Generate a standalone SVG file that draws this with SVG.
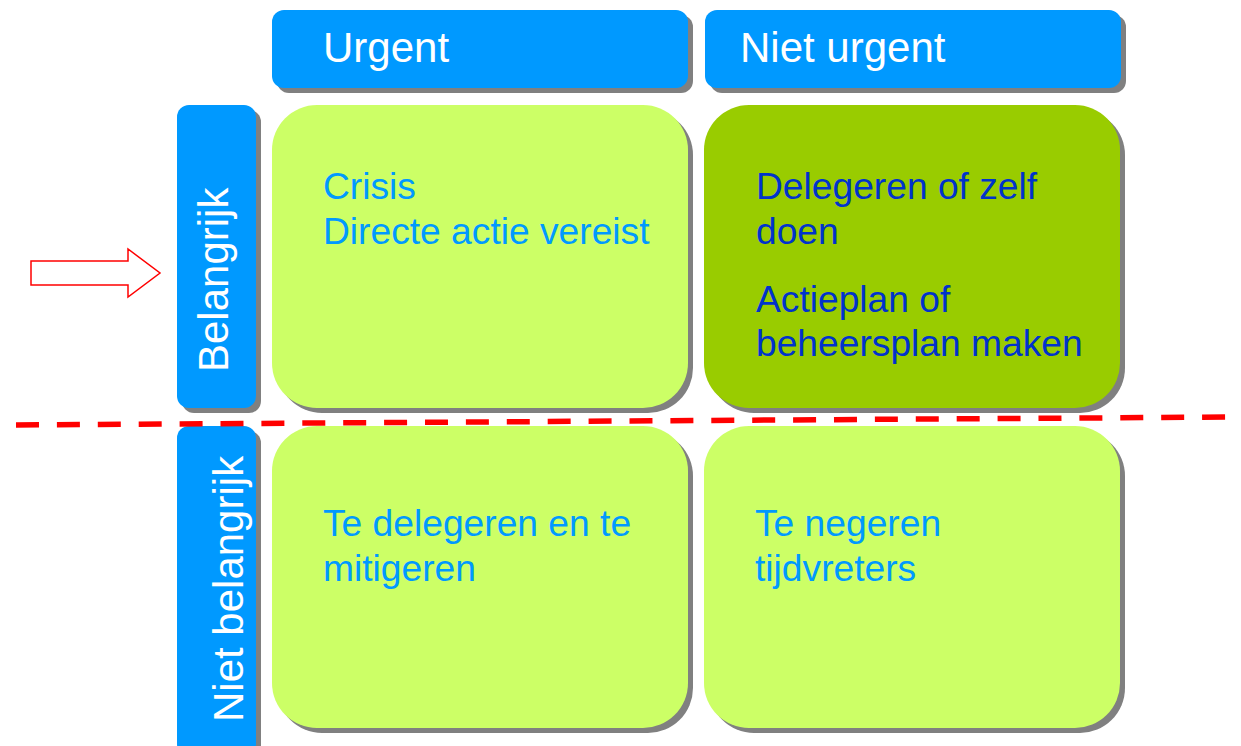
<svg xmlns="http://www.w3.org/2000/svg" width="1241" height="746" viewBox="0 0 1241 746">
<style>
.shadow{fill:#808080}
.hdr{fill:#0099FF}
.light{fill:#CCFF66}
.dark{fill:#99CC00}
text{font-family:"Liberation Sans",Arial,sans-serif}
.ht{fill:#FFFFFF;font-size:42px}
.qt{fill:#0099FF;font-size:37.2px}
.qd{fill:#0033CC;font-size:37.2px}
</style>
<rect width="1241" height="746" fill="#FFFFFF"/>
<g id="hdr-urgent">
<rect class="shadow" x="277" y="15" width="416" height="78" rx="12"/>
<rect class="hdr" x="272" y="10" width="416" height="78" rx="12"/>
<text class="ht" x="323" y="62">Urgent</text>
</g>
<g id="hdr-niet-urgent">
<rect class="shadow" x="710" y="15" width="416" height="78" rx="12"/>
<rect class="hdr" x="705" y="10" width="416" height="78" rx="12"/>
<text class="ht" x="740" y="62">Niet urgent</text>
</g>
<g id="side-belangrijk">
<rect class="shadow" x="182" y="110" width="79" height="303" rx="12"/>
<rect class="hdr" x="177" y="105" width="79" height="303" rx="12"/>
<text class="ht" transform="translate(228,372) rotate(-90)">Belangrijk</text>
</g>
<g id="side-niet-belangrijk">
<rect class="shadow" x="182" y="431" width="79" height="330" rx="12"/>
<rect class="hdr" x="177" y="426" width="79" height="330" rx="12"/>
<text class="ht" transform="translate(243,722) rotate(-90)">Niet belangrijk</text>
</g>
<g id="q-urgent-belangrijk">
<rect class="shadow" x="277" y="110" width="416" height="303" rx="45"/>
<rect class="light" x="272" y="105" width="416" height="303" rx="45"/>
<text class="qt" x="323" y="199">Crisis</text>
<text class="qt" x="323" y="244">Directe actie vereist</text>
</g>
<g id="q-niet-urgent-belangrijk">
<rect class="shadow" x="709" y="110" width="416" height="303" rx="45"/>
<rect class="dark" x="704" y="105" width="416" height="303" rx="45"/>
<text class="qd" x="756" y="199">Delegeren of zelf</text>
<text class="qd" x="756" y="244">doen</text>
<text class="qd" x="756" y="312">Actieplan of</text>
<text class="qd" x="756" y="356">beheersplan maken</text>
</g>
<g id="q-urgent-niet-belangrijk">
<rect class="shadow" x="277" y="431" width="416" height="302" rx="45"/>
<rect class="light" x="272" y="426" width="416" height="302" rx="45"/>
<text class="qt" x="323" y="536">Te delegeren en te</text>
<text class="qt" x="323" y="581">mitigeren</text>
</g>
<g id="q-niet-urgent-niet-belangrijk">
<rect class="shadow" x="709" y="431" width="416" height="302" rx="45"/>
<rect class="light" x="704" y="426" width="416" height="302" rx="45"/>
<text class="qt" x="755" y="536">Te negeren</text>
<text class="qt" x="755" y="581">tijdvreters</text>
</g>
<g id="connectors">
<line x1="16" y1="425" x2="1237" y2="417" stroke="#FF0000" stroke-width="5.5" stroke-dasharray="23 17.9"/>
<polygon points="31,261 128,261 128,249 160,273 128,297 128,285 31,285" fill="#FFFFFF" stroke="#FF0000" stroke-width="1.5"/>
</g>
</svg>
